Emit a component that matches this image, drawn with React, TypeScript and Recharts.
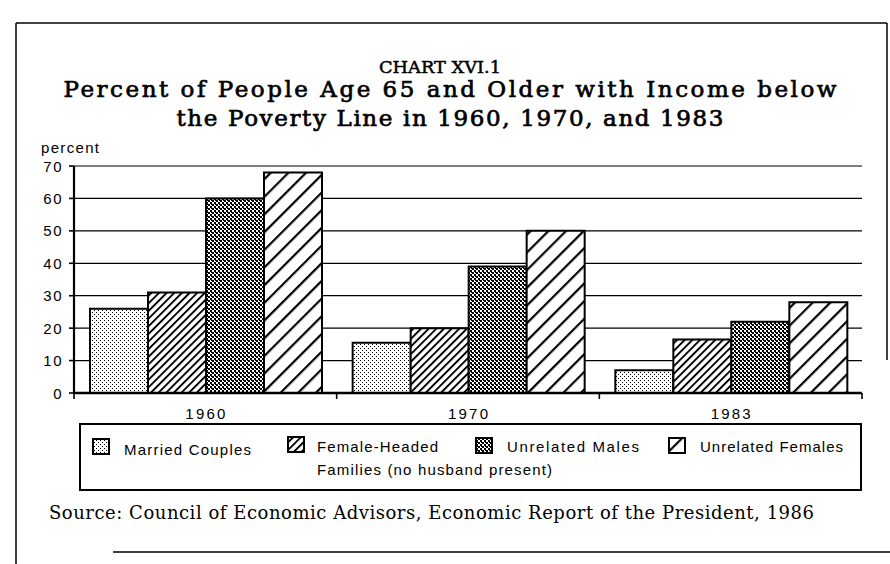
import React from 'react';
import { BarChart, Bar, XAxis, YAxis, CartesianGrid, Legend } from 'recharts';

// ---------- data ----------
const years = ['1960', '1970', '1983'];
const marriedCouples = [26, 15.5, 7];
const femaleHeaded = [31, 20, 16.5];
const unrelatedMales = [60, 39, 22];
const unrelatedFemales = [68, 50, 28];
const yTicks = [0, 10, 20, 30, 40, 50, 60, 70];

const seriesNames = ['Married Couples', 'Female-Headed', 'Unrelated Males', 'Unrelated Females'];
const seriesSecondLine = ['', 'Families (no husband present)', '', ''];
const seriesKeys = ['married', 'femaleHeaded', 'unrelatedMales', 'unrelatedFemales'];
const seriesValues = [marriedCouples, femaleHeaded, unrelatedMales, unrelatedFemales];
const seriesFills = ['url(#patDots)', 'url(#patHatchDense)', 'url(#patCheck)', 'url(#patHatchWide)'];

const chartLabel = 'CHART XVI.1';
const titleLine1 = 'Percent of People Age 65 and Older with Income below';
const titleLine2 = 'the Poverty Line in 1960, 1970, and 1983';
const yUnit = 'percent';
const sourceText = 'Source:  Council of Economic Advisors, Economic Report of the President, 1986';

const data = years.map((year, i) => {
  const row: Record<string, string | number> = { year };
  seriesKeys.forEach((k, s) => {
    row[k] = seriesValues[s][i];
  });
  return row;
});

// ---------- layout ----------
const W = 890;
const H = 564;
const PLOT_LEFT = 74;
const PLOT_RIGHT = 862;
const PLOT_TOP = 166;
const PLOT_BOTTOM = 393;
const PLOT_W = PLOT_RIGHT - PLOT_LEFT;
const X_AXIS_H = 30;
const SANS = "'Liberation Sans', Arial, Helvetica, sans-serif";
const SERIF = "'DejaVu Serif', serif";

const XTick = (props: any) => {
  const { x, y, payload, index } = props;
  const band = PLOT_W / years.length;
  return (
    <g>
      <line x1={x - band / 2} x2={x - band / 2} y1={y} y2={y + 6} stroke="#000" strokeWidth={1.6} />
      {index === years.length - 1 && (
        <line x1={x + band / 2} x2={x + band / 2} y1={y} y2={y + 6} stroke="#000" strokeWidth={1.6} />
      )}
      <text x={x} y={y + 26} textAnchor="middle" fontFamily={SANS} fontSize={15}
        textLength={40} lengthAdjust="spacing" fill="#000">
        {payload.value}
      </text>
    </g>
  );
};

const YTick = (props: any) => {
  const { x, y, payload } = props;
  return (
    <g>
      <line x1={x - 5} x2={x} y1={y} y2={y} stroke="#000" strokeWidth={1.6} />
      <text x={x - 11} y={y + 5.5} textAnchor="end" fontFamily={SANS} fontSize={15} letterSpacing={1.5} fill="#000">
        {payload.value}
      </text>
    </g>
  );
};

// legend layout (relative to legend wrapper)
const LEG_LEFT = 78;
const LEG_TOP = 422;
const LEG_W = 786;
const LEG_H = 70;
const legendIconX = [93, 288, 476, 669];
const legendIconY = [439, 437, 438, 438];
const legendTextX = [124, 317, 507, 700];
const legendTextY = [455, 452, 452, 452];
const legendTextW = [127, 121, 132, 143];
const legendLine2Y = 475;
const legendLine2W = 235;

const renderLegend = () => (
  <svg width={LEG_W} height={LEG_H} style={{ display: 'block' }}>
    <rect x={2} y={2} width={LEG_W - 5} height={LEG_H - 4} fill="#fff" stroke="#000" strokeWidth={2} />
    {seriesNames.map((name, i) => (
      <g key={name}>
        <rect
          x={legendIconX[i] - LEG_LEFT}
          y={legendIconY[i] - LEG_TOP}
          width={16}
          height={15}
          fill={seriesFills[i]}
          stroke="#000"
          strokeWidth={2}
        />
        <text
          x={legendTextX[i] - LEG_LEFT}
          y={legendTextY[i] - LEG_TOP}
          fontFamily={SANS}
          fontSize={15}
          textLength={legendTextW[i]}
          lengthAdjust="spacing"
          fill="#000"
        >
          {name}
        </text>
        {seriesSecondLine[i] && (
          <text
            x={legendTextX[i] - LEG_LEFT}
            y={legendLine2Y - LEG_TOP}
            fontFamily={SANS}
            fontSize={15}
            textLength={legendLine2W}
            lengthAdjust="spacing"
            fill="#000"
          >
            {seriesSecondLine[i]}
          </text>
        )}
      </g>
    ))}
  </svg>
);

export default function App() {
  return (
    <div style={{ position: 'absolute', left: 0, top: 0, width: W, height: H, background: '#fff', overflow: 'hidden' }}>
      <svg width={W} height={H} style={{ position: 'absolute', left: 0, top: 0 }}>
        <defs>
          <pattern id="patDots" patternUnits="userSpaceOnUse" width={4} height={4}>
            <rect x={0} y={0} width={4} height={4} fill="#fff" />
            <rect x={0} y={0} width={1} height={1} fill="#000" />
            <rect x={2} y={2} width={1} height={1} fill="#000" />
          </pattern>
          <pattern id="patCheck" patternUnits="userSpaceOnUse" width={4} height={4}>
            <rect x={0} y={0} width={4} height={4} fill="#fff" />
            <rect x={0} y={0} width={2} height={2} fill="#000" />
            <rect x={2} y={2} width={2} height={2} fill="#000" />
            <rect x={3} y={0} width={1} height={1} fill="#000" />
          </pattern>
          <pattern id="patHatchDense" patternUnits="userSpaceOnUse" width={5.4} height={5.4} patternTransform="rotate(45)">
            <rect x={0} y={0} width={5.4} height={5.4} fill="#fff" />
            <rect x={0} y={0} width={1.9} height={5.4} fill="#000" />
          </pattern>
          <pattern id="patHatchWide" patternUnits="userSpaceOnUse" width={12.5} height={12.5} patternTransform="rotate(45)">
            <rect x={0} y={0} width={12.5} height={12.5} fill="#fff" />
            <rect x={0} y={0} width={2.2} height={12.5} fill="#000" />
          </pattern>
        </defs>
        {/* outer page box */}
        <line x1={16} y1={23} x2={887} y2={23} stroke="#000" strokeWidth={1.5} />
        <line x1={16} y1={23} x2={16} y2={564} stroke="#000" strokeWidth={1.5} />
        <line x1={887} y1={23} x2={887} y2={360} stroke="#000" strokeWidth={1.5} />
        <line x1={113} y1={552} x2={890} y2={552} stroke="#000" strokeWidth={1.5} />
        {/* titles */}
        <text x={440} y={73} textAnchor="middle" fontFamily={SERIF} fontSize={17} stroke="#000" strokeWidth={0.5}
          textLength={122} lengthAdjust="spacingAndGlyphs" fill="#000">{chartLabel}</text>
        <text x={450} y={97} textAnchor="middle" fontFamily={SERIF} fontSize={23} stroke="#000" strokeWidth={0.7}
          textLength={773} lengthAdjust="spacing" fill="#000">{titleLine1}</text>
        <text x={450} y={126} textAnchor="middle" fontFamily={SERIF} fontSize={23} stroke="#000" strokeWidth={0.7}
          textLength={547} lengthAdjust="spacing" fill="#000">{titleLine2}</text>
        <text x={41} y={153} fontFamily={SANS} fontSize={15} textLength={58} lengthAdjust="spacing" fill="#000">{yUnit}</text>
        <text x={49} y={519} fontFamily={SERIF} fontSize={18} textLength={765} lengthAdjust="spacing" fill="#000">{sourceText}</text>
      </svg>
      <div style={{ position: 'absolute', left: 0, top: 0 }}>
        <BarChart
          width={W}
          height={H}
          data={data}
          margin={{ top: PLOT_TOP, right: W - PLOT_RIGHT, left: 0, bottom: H - PLOT_BOTTOM - X_AXIS_H }}
          barCategoryGap={16}
          barGap={0}
        >
          <CartesianGrid yAxisId="left" vertical={false} stroke="#000" strokeWidth={1.2} />
          <XAxis
            dataKey="year"
            height={X_AXIS_H}
            interval={0}
            tickSize={0}
            tickMargin={0}
            tickLine={false}
            axisLine={{ stroke: '#000', strokeWidth: 2.5 }}
            tick={<XTick />}
          />
          <YAxis
            yAxisId="left"
            width={PLOT_LEFT}
            domain={[0, 70]}
            ticks={yTicks}
            interval={0}
            tickSize={0}
            tickMargin={0}
            tickLine={false}
            axisLine={{ stroke: '#000', strokeWidth: 2.2 }}
            tick={<YTick />}
          />
          <YAxis
            yAxisId="right"
            orientation="right"
            width={0}
            domain={[0, 70]}
            ticks={yTicks}
            tick={false}
            tickLine={false}
            axisLine={{ stroke: '#000', strokeWidth: 1.6 }}
          />
          {seriesKeys.map((k, i) => (
            <Bar
              key={k}
              yAxisId="left"
              dataKey={k}
              name={seriesNames[i]}
              fill={seriesFills[i]}
              stroke="#000"
              strokeWidth={2}
              isAnimationActive={false}
            />
          ))}
          <Legend
            layout="horizontal"
            verticalAlign="middle"
            align="center"
            content={renderLegend}
            wrapperStyle={{ left: LEG_LEFT, top: LEG_TOP, width: LEG_W, height: LEG_H, bottom: 'auto', right: 'auto' }}
          />
        </BarChart>
      </div>
    </div>
  );
}
